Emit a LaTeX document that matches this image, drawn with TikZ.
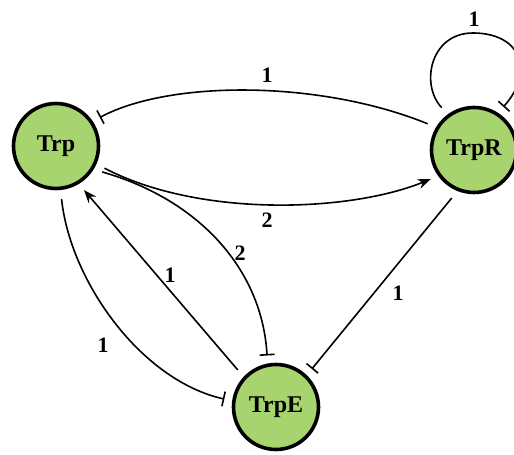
\documentclass[tikz,border=0pt]{standalone}
\usepackage{fontspec}
\setmainfont{Liberation Serif}
\usetikzlibrary{arrows.meta}
\definecolor{nodegreen}{RGB}{168,212,112}
\begin{document}
\begin{tikzpicture}[x=1pt,y=1pt,
  gene/.style={circle,draw=black,fill=nodegreen,line width=3.6pt,minimum size=85pt,inner sep=0pt,font=\fontsize{24}{26}\selectfont\bfseries},
  lbl/.style={font=\fontsize{22}{24}\selectfont\bfseries,inner sep=0pt},
  link/.style={line width=1.6pt,shorten <=9pt},
  act/.style={link,-{Stealth[length=13pt,width=10pt]},shorten >=8pt},
  inh/.style={link,-{Bar[width=15pt,line width=1.6pt]},shorten >=8pt}]
\useasboundingbox (0,0) rectangle (514,455);
\node[gene] (Trp) at (56,309) {Trp};
\node[gene] (TrpR) at (474,305) {TrpR};
\node[gene] (TrpE) at (276,48) {TrpE};
% edges
\draw[inh] (TrpR.149) .. controls (320,375) and (170,375) .. (Trp.34);
\draw[act] (Trp.-24) .. controls (200,237) and (350,243) .. (TrpR.216);
\draw[inh] (TrpR.126) .. controls (420,370) and (430,422) .. (473,422) .. controls (520,422) and (536,385) .. (TrpR.57);
\draw[inh] (TrpR.248) -- (TrpE.46.5);
\draw[inh] (Trp.-32) .. controls (200,255) and (262,185) .. (TrpE.101);
\draw[act] (TrpE.137) -- (Trp.-59);
\draw[inh] (Trp.-84) .. controls (70,175) and (140,75) .. (TrpE.172);
% labels
\node[lbl] (l1) at (267,380) {1};
\node[lbl] (l2) at (267,235) {2};
\node[lbl] (l3) at (474,436) {1};
\node[lbl] (l4) at (398,162) {1};
\node[lbl] (l5) at (240,202) {2};
\node[lbl] (l6) at (170,180) {1};
\node[lbl] (l7) at (103,110) {1};
\end{tikzpicture}
\end{document}
